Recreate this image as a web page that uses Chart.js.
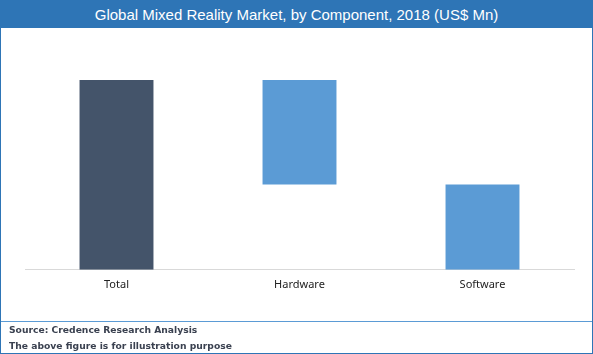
<!DOCTYPE html>
<html>
<head>
<meta charset="utf-8">
<script src="https://cdn.jsdelivr.net/npm/chart.js@4.4.1/dist/chart.umd.min.js"></script>
<style>
  html, body { margin: 0; padding: 0; background: #fff; }
  #wrap { position: relative; width: 593px; height: 354px; box-sizing: border-box; border: 1px solid #2E75B6; overflow: hidden; }
  #title { position: absolute; left: 0; top: 0; width: 591px; height: 27px; background: #2E75B6; color: #fff;
    font: 15px "Liberation Sans", Arial, sans-serif; text-align: center; line-height: 27px; }
  #chartBox { position: absolute; left: 0; top: 0; width: 591px; height: 352px; }
  #sep { position: absolute; left: 0; top: 320px; width: 591px; height: 1px; background: #5B9BD5; }
  #footer { position: absolute; left: 8px; top: 321px; color: #3a4150;
    font: bold 9.2px "DejaVu Sans", Verdana, sans-serif; line-height: 16px; }
</style>
</head>
<body>
<div id="wrap">
  <div id="chartBox"><canvas id="myChart" width="591" height="352"></canvas></div>
  <div id="title">Global Mixed Reality Market, by Component, 2018 (US$ Mn)</div>
  <div id="sep"></div>
  <div id="footer">Source: Credence Research Analysis<br>The above figure is for illustration purpose</div>
</div>
<script>
const categories = ["Total", "Hardware", "Software"];
// waterfall: each bar floats from barLow to barHigh (share of total, %)
const barLow = [0, 45, 0];
const barHigh = [100, 100, 45];
const barColors = ["#44546A", "#5B9BD5", "#5B9BD5"];

const ctx = document.getElementById("myChart");

new Chart(ctx, {
  type: "bar",
  data: {
    labels: categories,
    datasets: [
      {
        data: categories.map((c, i) => [barLow[i], barHigh[i]]),
        backgroundColor: barColors,
        borderWidth: 0,
        categoryPercentage: 1,
        barPercentage: 0.404,
      },
    ],
  },
  options: {
    responsive: false,
    animation: false,
    layout: {
      padding: { left: 24, right: 18, top: 79, bottom: 62 },
    },
    plugins: {
      legend: { display: false },
      tooltip: { enabled: false },
    },
    scales: {
      x: {
        grid: { display: false },
        border: { display: true, color: "#D9D9D9", width: 1 },
        ticks: {
          color: "#222",
          padding: 0,
          font: { family: "'Noto Sans', sans-serif", size: 11 },
        },
      },
      y: {
        display: false,
        min: 0,
        max: 100,
      },
    },
  },
});
</script>
</body>
</html>
